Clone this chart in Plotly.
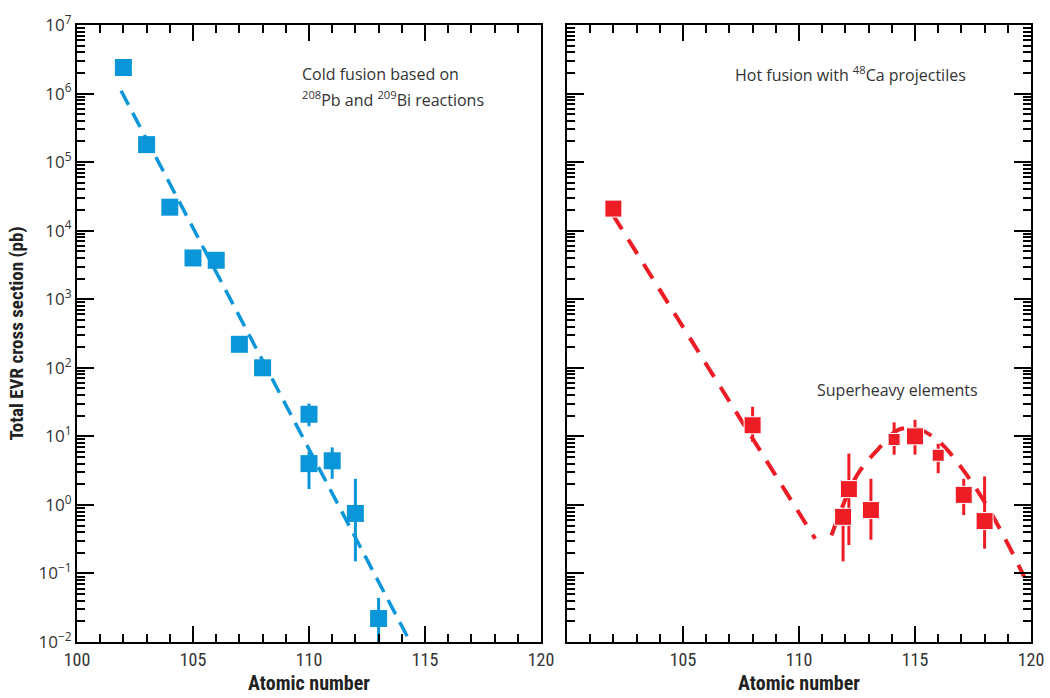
import plotly.graph_objects as go

# ---------------- data ----------------
# Cold fusion (left panel)
cold_z = [102, 103, 104, 105, 106, 107, 108, 110, 110, 111, 112, 113]
cold_sigma = [2.4e6, 1.8e5, 2.2e4, 4.0e3, 3.7e3, 220, 100, 21, 4.0, 4.4, 0.75, 0.022]
cold_err_hi = [2.4e6, 1.8e5, 2.2e4, 4.0e3, 3.7e3, 220, 100, 30, 6.0, 6.9, 2.4, 0.044]
cold_err_lo = [2.4e6, 1.8e5, 2.2e4, 4.0e3, 3.7e3, 220, 100, 14, 1.7, 2.4, 0.15, 0.009]
cold_fit_z = [101.9, 114.6]
cold_fit_sigma = [1.1e6, 7e-3]

# Hot fusion (right panel)
hot_z = [102, 108, 111.9, 112.15, 113.1, 114.1, 115.0, 116.0, 117.1, 118.0]
hot_sigma = [2.1e4, 14.5, 0.67, 1.7, 0.84, 9.0, 10.0, 5.3, 1.4, 0.58]
hot_err_hi = [2.1e4, 27, 1.0, 5.6, 2.4, 16, 17.4, 7.8, 2.4, 2.6]
hot_err_lo = [2.1e4, 8.3, 0.15, 0.26, 0.31, 5.4, 5.4, 2.9, 0.71, 0.23]
hot_size = [17, 17, 17, 17, 17, 12, 17, 12, 17, 17]
hot_fit1_z = [101.98, 110.7]
hot_fit1_sigma = [1.7e4, 0.32]
hot_fit2_z = [111.4, 112.5, 113.5, 114.3, 115.2, 116.1, 117.0, 118.0, 119.0, 119.7]
hot_fit2_sigma = [0.36, 2.7, 7.0, 12.5, 12.5, 8.0, 3.5, 1.1, 0.27, 0.09]

ytick_exp = [7, 6, 5, 4, 3, 2, 1, 0, -1, -2]
xtick_vals_left = [100, 105, 110, 115, 120]
xtick_vals_right = [105, 110, 115, 120]

BLUE = "#0a96d8"
RED = "#ee1c25"
TXT = "#333333"

fig = go.Figure()

# left panel
fig.add_trace(go.Scatter(x=cold_fit_z, y=cold_fit_sigma, mode="lines",
                         line=dict(color=BLUE, width=3.5, dash="16px,9px"),
                         xaxis="x", yaxis="y", showlegend=False, hoverinfo="skip"))
fig.add_trace(go.Scatter(
    x=cold_z, y=cold_sigma, mode="markers",
    marker=dict(symbol="square", size=17, color=BLUE, opacity=1),
    error_y=dict(type="data", symmetric=False,
                 array=[h - v for h, v in zip(cold_err_hi, cold_sigma)],
                 arrayminus=[v - l for l, v in zip(cold_err_lo, cold_sigma)],
                 color=BLUE, thickness=3, width=0),
    xaxis="x", yaxis="y", showlegend=False))

# right panel
fig.add_trace(go.Scatter(x=hot_fit1_z, y=hot_fit1_sigma, mode="lines",
                         line=dict(color=RED, width=4, dash="17px,12px"),
                         xaxis="x2", yaxis="y2", showlegend=False, hoverinfo="skip"))
fig.add_trace(go.Scatter(x=hot_fit2_z, y=hot_fit2_sigma, mode="lines",
                         line=dict(color=RED, width=4, dash="17px,12px", shape="spline"),
                         xaxis="x2", yaxis="y2", showlegend=False, hoverinfo="skip"))
fig.add_trace(go.Scatter(
    x=hot_z, y=hot_sigma, mode="markers",
    marker=dict(symbol="square", size=hot_size, color=RED, opacity=1),
    error_y=dict(type="data", symmetric=False,
                 array=[h - v for h, v in zip(hot_err_hi, hot_sigma)],
                 arrayminus=[v - l for l, v in zip(hot_err_lo, hot_sigma)],
                 color=RED, thickness=3, width=0),
    xaxis="x2", yaxis="y2", showlegend=False))

ytickvals = [10.0 ** e for e in ytick_exp]
yticktext = ["10<sup>%s</sup>" % (str(e) if e >= 0 else "\u2212" + str(-e)) for e in ytick_exp]
yminor = [m * 10.0 ** e for e in range(-2, 7) for m in range(2, 10)]

tickfont_y = dict(family="Open Sans, Noto Sans, sans-serif", size=17, color=TXT)
tickfont_x = dict(family="Liberation Sans Narrow, Roboto Condensed, Arial Narrow, Liberation Sans, sans-serif",
                  size=18, color=TXT)
titlefont = dict(family="Liberation Sans Narrow, Roboto Condensed, Liberation Sans, sans-serif",
                 size=20, color="#222222", weight="bold")

def xaxis_common(domain, anchor, tickvals):
    return dict(domain=domain, anchor=anchor, range=[100, 120], automargin=False,
                tickmode="array", tickvals=tickvals,
                ticks="inside", ticklen=16, tickwidth=2, tickcolor="black",
                minor=dict(ticks="inside", dtick=1, tick0=100, ticklen=8, tickwidth=1.8,
                           tickcolor="black", showgrid=False),
                showline=True, linewidth=2, linecolor="black", mirror="ticks",
                showgrid=False, zeroline=False, tickfont=tickfont_x,
                title=dict(text="Atomic number", font=titlefont, standoff=7))

def yaxis_common(domain, anchor, labels, mirror):
    return dict(domain=domain, anchor=anchor, type="log", range=[-2, 7], automargin=False,
                tickmode="array", tickvals=ytickvals, ticktext=yticktext,
                showticklabels=labels,
                ticks="inside", ticklen=17, tickwidth=2, tickcolor="black",
                minor=dict(tickmode="array", tickvals=yminor, ticks="inside", ticklen=8,
                           tickwidth=1.8, tickcolor="black", showgrid=False),
                showline=True, linewidth=2, linecolor="black", mirror=mirror,
                showgrid=False, zeroline=False, tickfont=tickfont_y)

ydom = [1 - 642 / 698, 1 - 25 / 698]
fig.update_layout(
    width=1050, height=698,
    margin=dict(l=0, r=0, t=0, b=0),
    paper_bgcolor="white", plot_bgcolor="white",
    xaxis=xaxis_common([77 / 1050, 541 / 1050], "y", xtick_vals_left),
    yaxis=dict(**yaxis_common(ydom, "x", True, True),
               title=dict(text="Total EVR cross section (pb)", font=dict(
                   family="Liberation Sans Narrow, Roboto Condensed, Liberation Sans, sans-serif",
                   size=19, color="#222222", weight="bold"), standoff=10)),
    xaxis2=xaxis_common([567 / 1050, 1031 / 1050], "y2", xtick_vals_right),
    yaxis2=yaxis_common(ydom, "x2", False, "ticks"),
)

annfont = dict(family="Open Sans, Noto Sans, sans-serif", size=16, color=TXT)
fig.add_annotation(xref="paper", yref="paper", x=300 / 1050, y=1 - 74 / 698,
                   xanchor="left", yanchor="middle", showarrow=False,
                   text="Cold fusion based on", font=annfont)
fig.add_annotation(xref="paper", yref="paper", x=300 / 1050, y=1 - 99 / 698,
                   xanchor="left", yanchor="middle", showarrow=False,
                   text="<sup>208</sup>Pb and <sup>209</sup>Bi reactions", font=annfont)
fig.add_annotation(xref="paper", yref="paper", x=733 / 1050, y=1 - 74 / 698,
                   xanchor="left", yanchor="middle", showarrow=False,
                   text="Hot fusion with <sup>48</sup>Ca projectiles", font=annfont)
fig.add_annotation(xref="paper", yref="paper", x=815 / 1050, y=1 - 390 / 698,
                   xanchor="left", yanchor="middle", showarrow=False,
                   text="Superheavy elements", font=annfont)

fig.write_html("out.html", config={"displayModeBar": False},
               post_script="document.body.style.margin='0px';document.body.style.overflow='hidden';")
